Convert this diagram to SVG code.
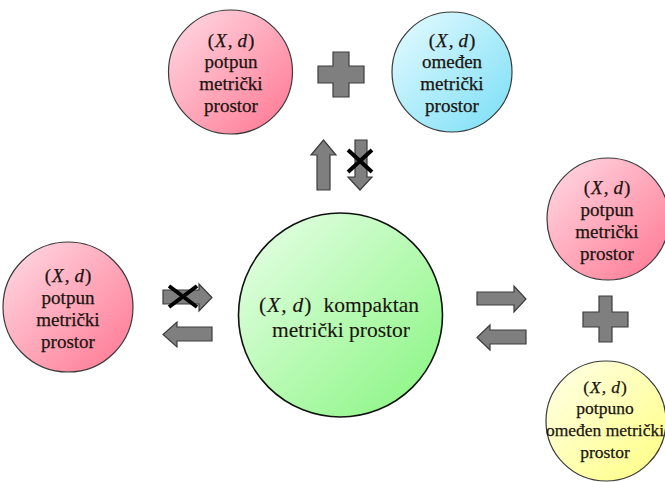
<svg xmlns="http://www.w3.org/2000/svg" width="665" height="482" viewBox="0 0 665 482">
<defs>
<linearGradient id="gPink" x1="0" y1="0" x2="1" y2="1"><stop offset="0" stop-color="#ffdce6"/><stop offset="1" stop-color="#ff7590"/></linearGradient>
<linearGradient id="gCyan" x1="0" y1="0" x2="1" y2="1"><stop offset="0" stop-color="#e8fbff"/><stop offset="1" stop-color="#78def6"/></linearGradient>
<linearGradient id="gGreen" x1="0" y1="0" x2="1" y2="1"><stop offset="0" stop-color="#eaffea"/><stop offset="1" stop-color="#86f57e"/></linearGradient>
<linearGradient id="gYellow" x1="0" y1="0" x2="1" y2="1"><stop offset="0" stop-color="#ffffea"/><stop offset="1" stop-color="#ffff80"/></linearGradient>
</defs>
<style>
.c{stroke:#3a3a3a;stroke-width:1.2}
.big{stroke:#111;stroke-width:1.6}
text{font-family:'Liberation Serif','Times New Roman',serif;font-size:19px;fill:#1a1410;stroke:#1a1410;stroke-width:0.25;text-anchor:middle}
.ty{font-size:17.5px}
.tg{font-size:21.5px;stroke-width:0.12}
.i{font-style:italic}
.a{fill:#7f7f7f;stroke:#3c3c3c;stroke-width:1.2;stroke-linejoin:miter}
.x{stroke:#000;stroke-width:4;stroke-linecap:butt;fill:none}
</style>
<g id="connectors">
<path class="a" d="M317,190 V155 H311 L323.5,140 L336,155 H330 V190 Z"/>
<path class="a" d="M355,140 H367 V177 H372 L360,190 L348,177 H355 Z"/>
<path class="x" d="M348,150 L372,172 M372,150 L348,172"/>
<path class="a" d="M163,290 H199 V284 L212,297.5 L199,311 V304 H163 Z"/>
<path class="x" d="M169,286 L197,307 M197,286 L169,307"/>
<path class="a" d="M212,327 H177 V322 L163,334.5 L177,347 V341 H212 Z"/>
<path class="a" d="M477,292 H514 V286 L526,299 L514,312 V305 H477 Z"/>
<path class="a" d="M526,330 H490 V325 L477,337.5 L490,350 V344 H526 Z"/>
<path class="a" d="M333,52 H349 V66 H364 V83 H349 V97 H333 V83 H318 V66 H333 Z"/>
<path class="a" d="M599,296 H612 V312 H628 V327 H612 V342 H599 V327 H583 V312 H599 Z"/>
</g>
<g id="node-top-complete">
<circle class="c" cx="230.5" cy="72" r="62" fill="url(#gPink)"/>
<text x="231" y="47">(<tspan class="i" dx="1">X</tspan><tspan dx="1">,</tspan><tspan class="i" dx="5">d</tspan><tspan dx="1">)</tspan></text>
<text x="231" y="68">potpun</text>
<text x="231" y="90">metrički</text>
<text x="231" y="112">prostor</text>
</g>
<g id="node-top-bounded">
<circle class="c" cx="452" cy="72" r="60" fill="url(#gCyan)"/>
<text x="452" y="47">(<tspan class="i" dx="1">X</tspan><tspan dx="1">,</tspan><tspan class="i" dx="5">d</tspan><tspan dx="1">)</tspan></text>
<text x="452" y="68">omeđen</text>
<text x="452" y="90">metrički</text>
<text x="452" y="112">prostor</text>
</g>
<g id="node-compact">
<circle class="big" cx="340.5" cy="315" r="102" fill="url(#gGreen)"/>
<text class="tg" x="339" y="312">(<tspan class="i" dx="1">X</tspan><tspan dx="1">,</tspan><tspan class="i" dx="6">d</tspan><tspan dx="1">)</tspan><tspan dx="12">kompaktan</tspan></text>
<text class="tg" x="341" y="337">metrički prostor</text>
</g>
<g id="node-left-complete">
<circle class="c" cx="68" cy="307" r="65" fill="url(#gPink)"/>
<text x="68" y="282">(<tspan class="i" dx="1">X</tspan><tspan dx="1">,</tspan><tspan class="i" dx="5">d</tspan><tspan dx="1">)</tspan></text>
<text x="68" y="304">potpun</text>
<text x="68" y="326">metrički</text>
<text x="68" y="348">prostor</text>
</g>
<g id="node-right-complete">
<circle class="c" cx="608" cy="219" r="61" fill="url(#gPink)"/>
<text x="607" y="194">(<tspan class="i" dx="1">X</tspan><tspan dx="1">,</tspan><tspan class="i" dx="5">d</tspan><tspan dx="1">)</tspan></text>
<text x="607" y="216">potpun</text>
<text x="607" y="238">metrički</text>
<text x="607" y="260">prostor</text>
</g>
<g id="node-right-totally-bounded">
<circle class="c" cx="606" cy="421" r="60" fill="url(#gYellow)"/>
<text class="ty" x="605" y="393">(<tspan class="i" dx="1">X</tspan><tspan dx="1">,</tspan><tspan class="i" dx="5">d</tspan><tspan dx="1">)</tspan></text>
<text class="ty" x="605" y="414">potpuno</text>
<text class="ty" x="605" y="436">omeđen metrički</text>
<text class="ty" x="605" y="458">prostor</text>
</g>
</svg>
